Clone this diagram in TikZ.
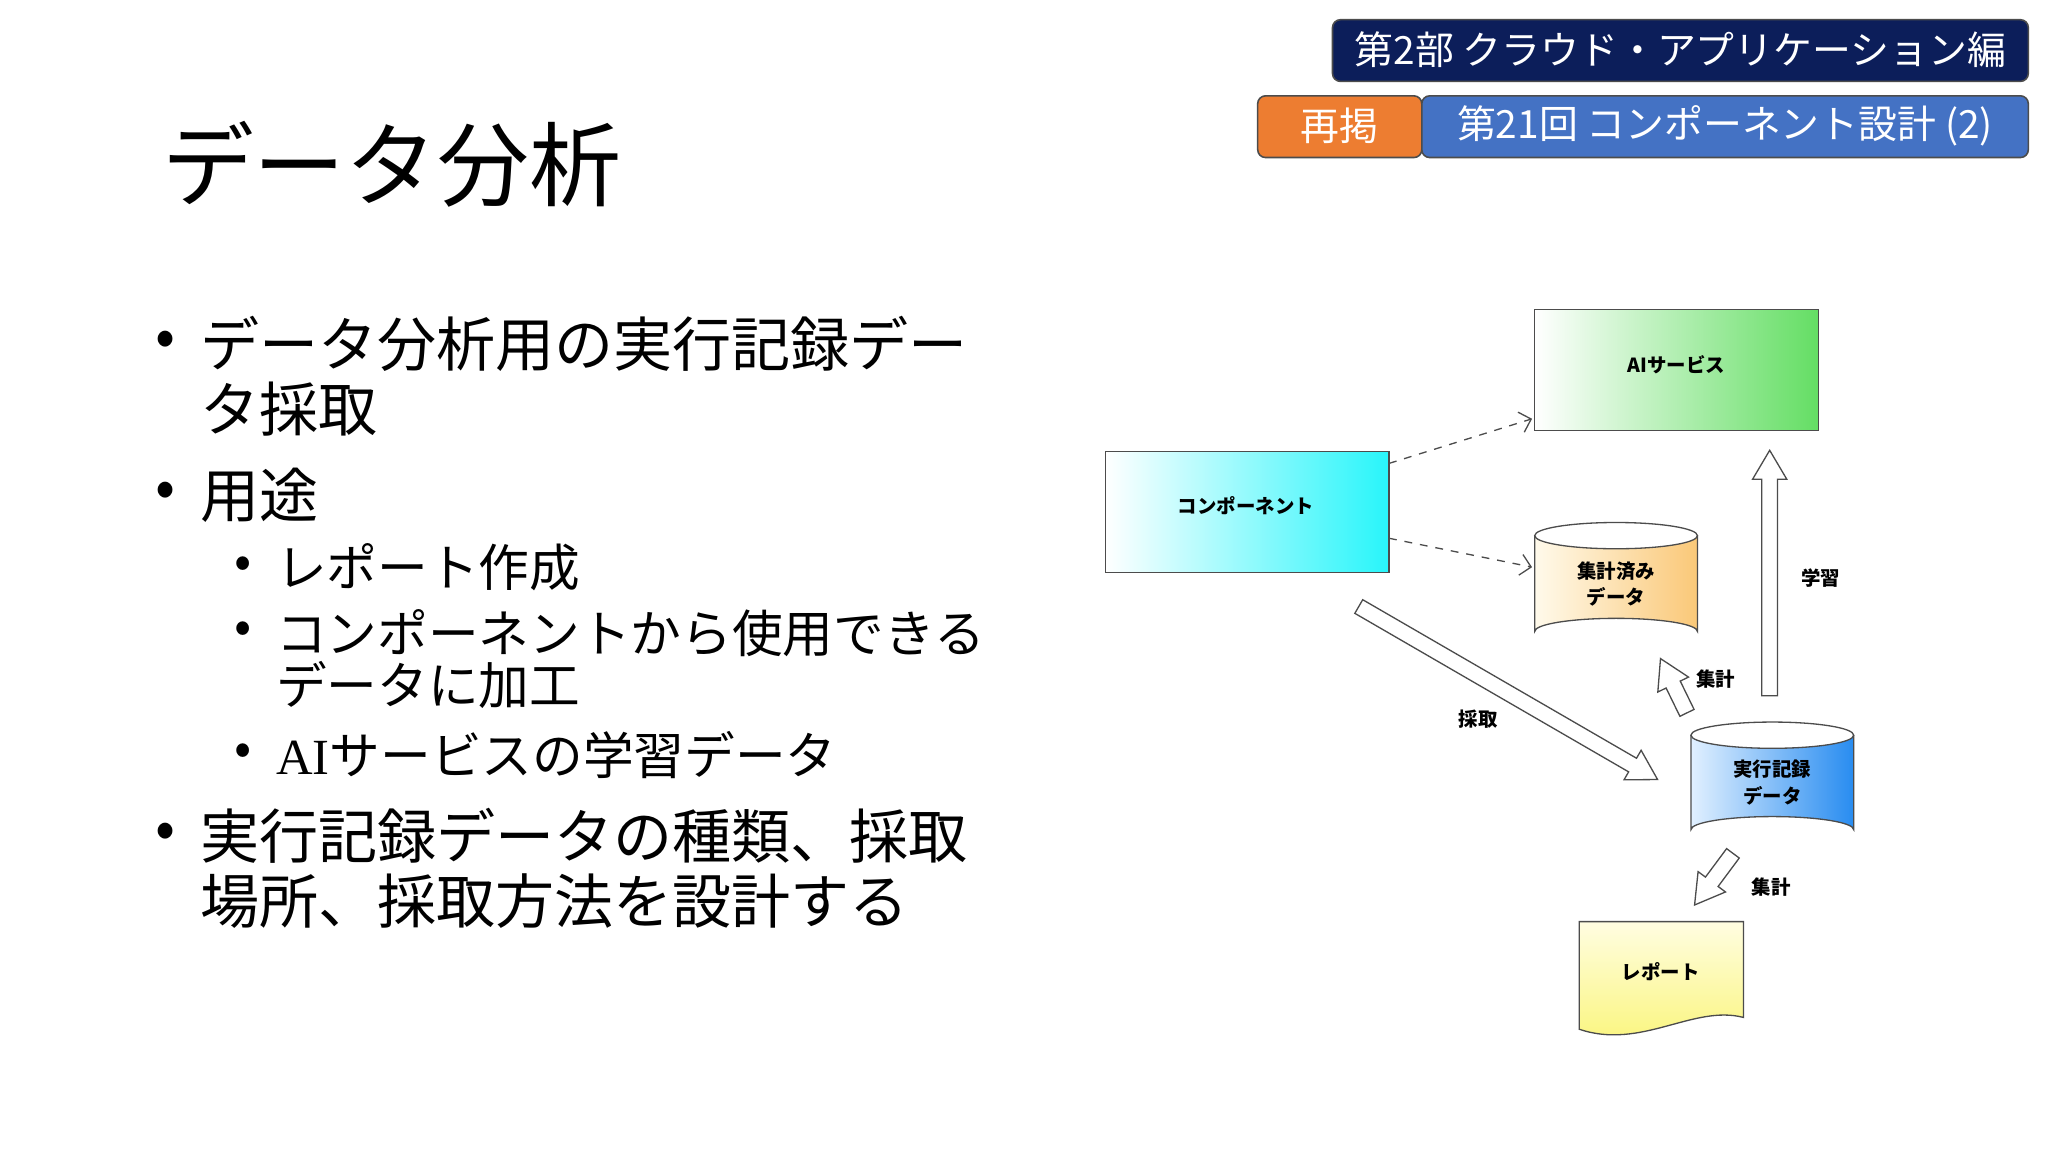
\documentclass[tikz,border=0pt]{standalone}
\usepackage{fontspec}
\usetikzlibrary{arrows.meta}
\setmainfont{Noto Sans CJK JP}
\newfontfamily\serifai{Liberation Serif}
\begin{document}
\begin{tikzpicture}[x=0.5pt,y=-0.5pt,
  hdr/.style={rounded corners=3pt,draw=black!70,line width=0.6pt},
  hdrt/.style={text=white,font=\fontsize{14.8}{16}\selectfont},
  big/.style={anchor=west,inner sep=0,font=\fontsize{22.5}{24}\selectfont},
  sub/.style={anchor=west,inner sep=0,font=\fontsize{19.3}{20}\selectfont},
  lbl/.style={font=\fontsize{7.4}{10}\selectfont\bfseries,align=center},
  box/.style={draw=black!70,line width=0.5pt},
  barrow/.style={draw=black!70,fill=white,line width=0.5pt},
  dashconn/.style={draw=black!70,dashed,line width=0.5pt,-{Straight Barb[length=4pt]}}]
\useasboundingbox (0,0) rectangle (1560,877.5);
\fill[white] (0,0) rectangle (1560,877.5);
% header
\draw[hdr,fill={rgb,255:red,12;green,30;blue,90}] (1015,15) rectangle (1545,62);
\node[hdrt] at (1280,38) {第2部 クラウド・アプリケーション編};
\draw[hdr,fill={rgb,255:red,237;green,125;blue,49}] (958,73) rectangle (1083,120);
\node[hdrt] at (1020,96) {再掲};
\draw[hdr,fill={rgb,255:red,68;green,114;blue,196}] (1083,73) rectangle (1545,120);
\node[hdrt] at (1314,96) {第21回 コンポーネント設計 (2)};
% title
\node[anchor=west,inner sep=0,font=\fontsize{35}{40}\selectfont] (title) at (123,125) {データ分析};
% bullets
\foreach \y in {262,377,637} \node[big] at (118,\y) {•};
\node[big] at (152,262) {データ分析用の実行記録デー};
\node[big] at (152,312) {タ採取};
\node[big] at (152,377) {用途};
\foreach \y in {432,482,575} \node[sub] at (178,\y) {•};
\node[sub] at (210,432) {レポート作成};
\node[sub] at (210,482) {コンポーネントから使用できる};
\node[sub] at (210,522) {データに加工};
\node[sub] at (210,575) {{\serifai AI}サービスの学習データ};
\node[big] at (152,637) {実行記録データの種類、採取};
\node[big] at (152,686) {場所、採取方法を設計する};
% diagram boxes
\shade[shading angle=-45,left color=white,right color={rgb,255:red,40;green,245;blue,250}] (842,344) rectangle (1058,436);
\draw[box] (842,344) rectangle (1058,436);
\node[lbl] (comp) at (949,385) {コンポーネント};
\shade[shading angle=-45,left color=white,right color={rgb,255:red,100;green,222;blue,100}] (1169,236) rectangle (1385,328);
\draw[box] (1169,236) rectangle (1385,328);
\node[lbl] (ai) at (1277,278) {AIサービス};
% cylinders
\shade[shading angle=-45,left color={rgb,255:red,255;green,250;blue,235},right color={rgb,255:red,250;green,200;blue,120}]
  (1169,408) -- (1169,481) arc[start angle=180,end angle=360,x radius=62,y radius=10] -- (1293,408) arc[start angle=0,end angle=180,x radius=62,y radius=10];
\draw[box] (1169,408) -- (1169,481) arc[start angle=180,end angle=360,x radius=62,y radius=10] -- (1293,408);
\draw[box] (1231,408) ellipse[x radius=62,y radius=10];
\node[lbl] (agg) at (1231,445) {集計済み\\データ};
\shade[shading angle=-45,left color={rgb,255:red,225;green,240;blue,255},right color={rgb,255:red,40;green,140;blue,240}]
  (1288,560) -- (1288,632) arc[start angle=180,end angle=360,x radius=62,y radius=10] -- (1412,560) arc[start angle=0,end angle=180,x radius=62,y radius=10];
\draw[box] (1288,560) -- (1288,632) arc[start angle=180,end angle=360,x radius=62,y radius=10] -- (1412,560);
\draw[box] (1350,560) ellipse[x radius=62,y radius=10];
\node[lbl] (rec) at (1350,596) {実行記録\\データ};
% report
\shade[shading angle=0,top color={rgb,255:red,255;green,253;blue,225},bottom color={rgb,255:red,250;green,245;blue,120}]
 (1203,702) -- (1328,702) -- (1328,775) .. controls (1290,765) and (1250,800) .. (1203,784) -- cycle;
\draw[box] (1203,702) -- (1328,702) -- (1328,775) .. controls (1290,765) and (1250,800) .. (1203,784) -- cycle;
\node[lbl] (rep) at (1265,740) {レポート};
% dashed
\coordinate (c1) at (1058,353); \coordinate (a1) at (1167,319);
\coordinate (c2) at (1058,410); \coordinate (a2) at (1167,432);
\draw[dashconn] (c1) -- (a1);
\draw[dashconn] (c2) -- (a2);
% block arrows
\newcommand\blockarr[4]{\draw[barrow,shift={(#1,#2)},rotate=#3] (0,-6) -- ({#4-22},-6) -- ({#4-22},-13) -- (#4,0) -- ({#4-22},13) -- ({#4-22},6) -- (0,6) -- cycle;}
\blockarr{1035}{462}{-30.07}{263}
\blockarr{1285}{543}{116}{46}
\blockarr{1348}{530}{90}{187}
\blockarr{1320}{650}{-126.6}{49}
\node[lbl] at (1126,548) {採取};
\node[lbl] at (1307,517) {集計};
\node[lbl] at (1387,440) {学習};
\node[lbl] at (1349,676) {集計};
\end{tikzpicture}
\end{document}
